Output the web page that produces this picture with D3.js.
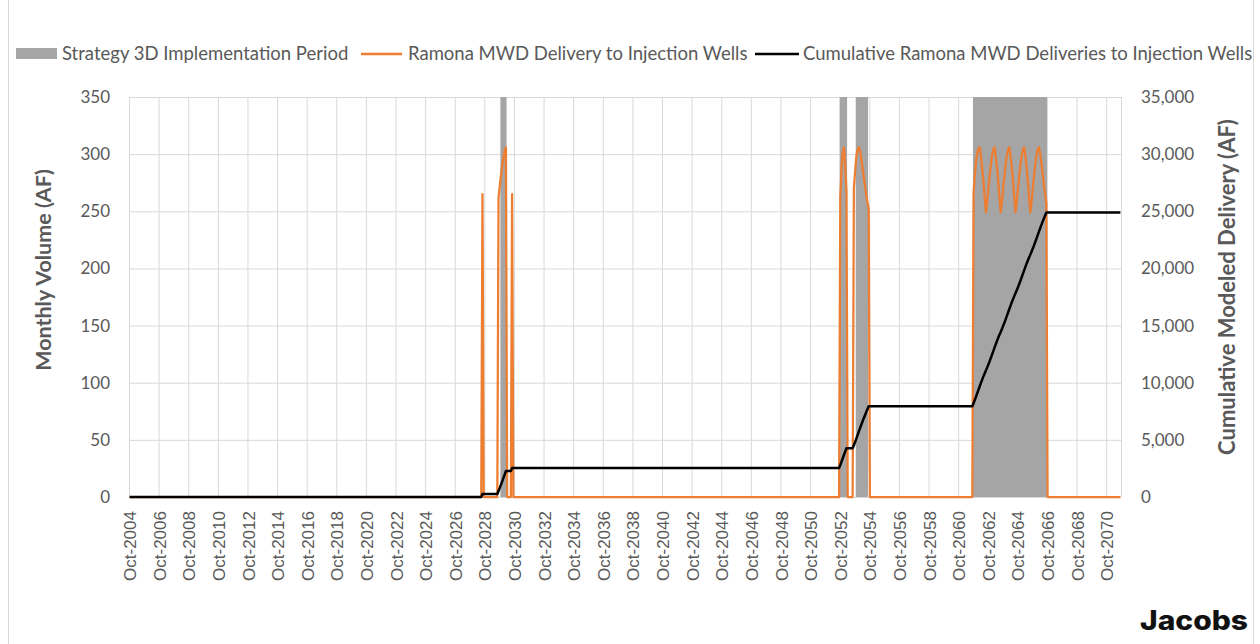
<!DOCTYPE html>
<html>
<head>
<meta charset="utf-8">
<script src="https://cdn.jsdelivr.net/npm/d3@7"></script>
<style>
  body { margin: 0; background: #fff; }
  svg { display: block; }
</style>
</head>
<body>
<script>
// Monthly categories, Oct-2004 through Sep-2071
const months = d3.timeMonth.range(new Date(2004, 9, 1), new Date(2071, 9, 1));

// Axis tick labels
const xTickLabels = d3.range(2004, 2071, 2).map(y => "Oct-" + y);
const leftTicks = [0, 50, 100, 150, 200, 250, 300, 350];
const rightTicks = [0, 5000, 10000, 15000, 20000, 25000, 30000, 35000];

// Ramona MWD delivery (AF): runs of non-zero months, every other month is 0
const deliveryStarts = ["2028-08", "2029-09", "2030-08", "2052-10", "2053-09", "2061-10"];
const deliveryValues = [
  [265],
  [262, 272, 282, 290, 297, 303, 306],
  [265],
  [262, 288, 302, 306, 290, 268],
  [270, 285, 298, 304, 306, 303, 296, 288, 280, 272, 265, 258, 252],
  [266, 282, 294, 301, 305,
   306, 298, 288, 276, 262, 249, 258, 270, 281, 291, 299, 304,
   306, 298, 288, 276, 262, 249, 258, 270, 281, 291, 299, 304,
   306, 298, 288, 276, 262, 249, 258, 270, 281, 291, 299, 304,
   306, 298, 288, 276, 262, 249, 258, 270, 281, 291, 299, 304,
   306, 300, 292, 283, 274, 265, 257]
];

// Strategy 3D implementation periods (first and last month)
const periodStarts = ["2029-11", "2052-10", "2053-11", "2061-10"];
const periodEnds = ["2030-03", "2053-03", "2054-08", "2066-09"];

// month string -> index in the months list
function monthIndex(s) {
  const [yy, mm] = s.split("-").map(Number);
  return (yy - 2004) * 12 + (mm - 10);
}

const delivery = months.map(() => 0);
deliveryStarts.forEach((s, k) => {
  const i0 = monthIndex(s);
  deliveryValues[k].forEach((v, j) => { delivery[i0 + j] = v; });
});
const cumulative = Array.from(d3.cumsum(delivery));

const width = 1260, height = 644;
const plotLeft = 129, plotRight = 1121, plotTop = 97, plotBottom = 497;
const grey = "#595959";
const font = "Lato, 'Open Sans', sans-serif";

const svg = d3.select("body").append("svg")
    .attr("width", width)
    .attr("height", height)
    .style("background", "#fff");

// outer frame lines
svg.append("line").attr("x1", 8.5).attr("x2", 8.5).attr("y1", 0).attr("y2", height)
    .attr("stroke", "#d9d9d9");
svg.append("line").attr("x1", 1253.5).attr("x2", 1253.5).attr("y1", 0).attr("y2", height)
    .attr("stroke", "#d9d9d9");

const x = d3.scaleLinear().domain([0, months.length]).range([plotLeft, plotRight]);
const yL = d3.scaleLinear().domain([0, 350]).range([plotBottom, plotTop]);
const yR = d3.scaleLinear().domain([0, 35000]).range([plotBottom, plotTop]);

// horizontal gridlines
svg.append("g")
    .attr("transform", `translate(${plotLeft},0)`)
    .call(d3.axisLeft(yL).tickValues(leftTicks).tickSize(-(plotRight - plotLeft)).tickFormat(""))
    .call(g => g.select(".domain").remove())
    .call(g => g.selectAll("line").attr("stroke", "#d9d9d9"));

// vertical gridlines every 24 months plus the right edge
svg.append("g")
    .attr("transform", `translate(0,${plotBottom})`)
    .call(d3.axisBottom(x).tickValues(d3.range(0, months.length, 24).concat([months.length]))
        .tickSize(-(plotBottom - plotTop)).tickFormat(""))
    .call(g => g.select(".domain").remove())
    .call(g => g.selectAll("line").attr("stroke", "#d9d9d9"));

// implementation period bars
svg.append("g")
    .selectAll("rect")
    .data(periodStarts.map((s, k) => [monthIndex(s), monthIndex(periodEnds[k])]))
    .enter()
    .append("rect")
    .attr("x", d => x(d[0]))
    .attr("width", d => x(d[1] + 1) - x(d[0]))
    .attr("y", yL(350))
    .attr("height", yL(0) - yL(350))
    .attr("fill", "#a5a5a5");

// monthly delivery line
svg.append("path")
    .datum(delivery)
    .attr("fill", "none")
    .attr("stroke", "#ed7d31")
    .attr("stroke-width", 2.25)
    .attr("stroke-linejoin", "round")
    .attr("d", d3.line().x((d, i) => x(i + 0.5)).y(d => yL(d)));

// cumulative line on secondary axis
svg.append("path")
    .datum(cumulative)
    .attr("fill", "none")
    .attr("stroke", "#000")
    .attr("stroke-width", 2.5)
    .attr("stroke-linejoin", "round")
    .attr("d", d3.line().x((d, i) => x(i + 0.5)).y(d => yR(d)));

// left axis labels
svg.append("g")
    .attr("transform", `translate(${plotLeft},0)`)
    .call(d3.axisLeft(yL).tickValues(leftTicks).tickSize(0).tickPadding(19))
    .call(g => g.select(".domain").remove())
    .call(g => g.selectAll("text").attr("fill", grey).style("font-family", font).style("font-size", "17px"));

// right axis labels
svg.append("g")
    .attr("transform", `translate(${plotRight},0)`)
    .call(d3.axisRight(yR).tickValues(rightTicks).tickSize(0).tickPadding(20).tickFormat(d3.format(",")))
    .call(g => g.select(".domain").remove())
    .call(g => g.selectAll("text").attr("fill", grey).style("font-family", font).style("font-size", "17px"));

// bottom axis labels, rotated
svg.append("g")
    .attr("transform", `translate(0,${plotBottom})`)
    .call(d3.axisBottom(x).tickValues(d3.range(0, months.length, 24).map(i => i + 0.5))
        .tickSize(0).tickFormat((d, k) => xTickLabels[k]))
    .call(g => g.select(".domain").remove())
    .call(g => g.selectAll("text")
        .attr("transform", "rotate(-90)")
        .attr("x", -14)
        .attr("y", 0)
        .attr("dy", "0.35em")
        .style("text-anchor", "end")
        .attr("fill", grey)
        .style("font-family", "'Liberation Sans', Arial, sans-serif")
        .style("font-size", "17px"));

// axis titles
svg.append("text")
    .attr("transform", "translate(51,270) rotate(-90)")
    .attr("text-anchor", "middle")
    .attr("fill", grey)
    .style("font-family", font)
    .style("font-size", "21.5px")
    .style("font-weight", "bold")
    .text("Monthly Volume (AF)");

svg.append("text")
    .attr("transform", "translate(1235,287) rotate(-90)")
    .attr("text-anchor", "middle")
    .attr("fill", grey)
    .style("font-family", font)
    .style("font-size", "22px")
    .style("font-weight", "bold")
    .text("Cumulative Modeled Delivery (AF)");

// legend
const legend = svg.append("g").style("font-family", font).style("font-size", "18.5px");
legend.append("rect").attr("x", 16).attr("y", 48).attr("width", 41).attr("height", 11).attr("fill", "#a5a5a5");
legend.append("text").attr("x", 62).attr("y", 60).attr("fill", grey).text("Strategy 3D Implementation Period");
legend.append("line").attr("x1", 361).attr("x2", 402).attr("y1", 54).attr("y2", 54)
    .attr("stroke", "#ed7d31").attr("stroke-width", 2.5);
legend.append("text").attr("x", 408).attr("y", 60).attr("fill", grey).text("Ramona MWD Delivery to Injection Wells");
legend.append("line").attr("x1", 755).attr("x2", 799).attr("y1", 54).attr("y2", 54)
    .attr("stroke", "#000").attr("stroke-width", 2.5);
legend.append("text").attr("x", 803).attr("y", 60).attr("fill", grey).text("Cumulative Ramona MWD Deliveries to Injection Wells");

// logo text
svg.append("text")
    .attr("x", 1140)
    .attr("y", 630)
    .attr("textLength", 108)
    .attr("lengthAdjust", "spacingAndGlyphs")
    .style("font-family", "Inter, 'Open Sans', sans-serif")
    .style("font-size", "27px")
    .style("font-weight", 800)
    .attr("fill", "#111")
    .text("Jacobs");
</script>
</body>
</html>
